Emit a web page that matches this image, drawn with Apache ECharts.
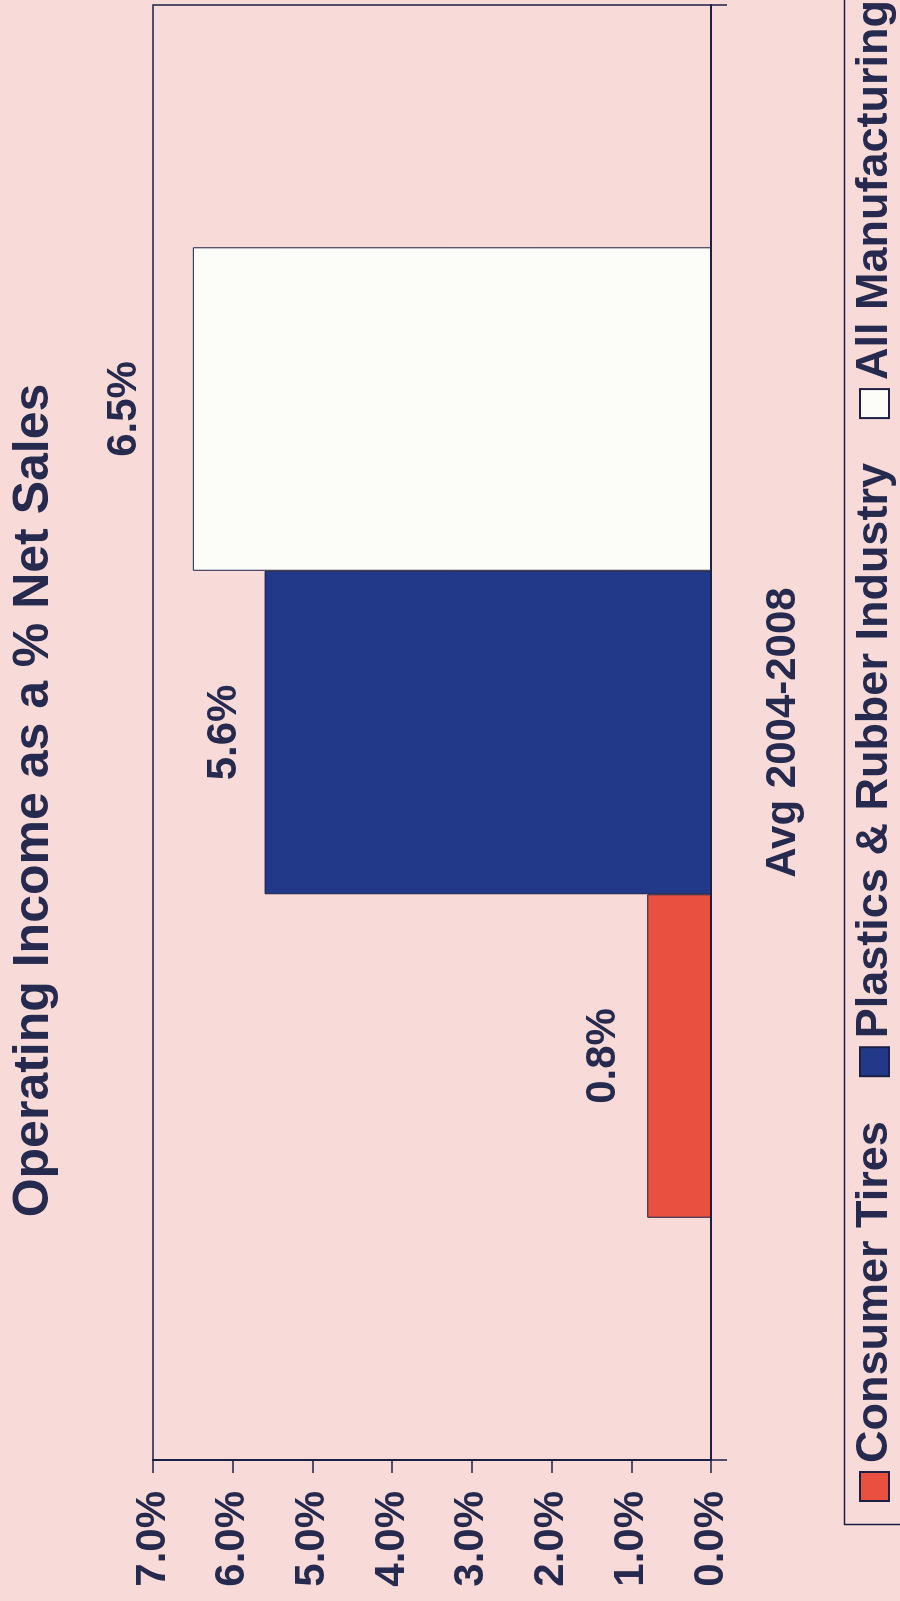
<!DOCTYPE html>
<html>
<head>
<meta charset="utf-8">
<title>Operating Income as a % Net Sales</title>
<script src="https://cdn.jsdelivr.net/npm/echarts@6/dist/echarts.min.js"></script>
<style>
  html, body { margin: 0; padding: 0; width: 900px; height: 1601px; overflow: hidden; background: #f8dbd8; }
  /* landscape chart turned a quarter-turn counter-clockwise to fill the portrait page */
  #chart {
    position: absolute; left: 0; top: 0;
    width: 1601px; height: 900px;
    transform-origin: 0 0;
    transform: translate(0, 1601px) rotate(-90deg);
  }
</style>
</head>
<body>
<div id="chart"></div>
<script>
// Operating income as a share of net sales, 5-year average
const categories = ['Avg 2004-2008'];
const seriesNames = ['Consumer Tires', 'Plastics & Rubber Industry', 'All Manufacturing'];
const consumerTires = [0.8];
const plasticsRubber = [5.6];
const allManufacturing = [6.5];
const valueAxisMin = 0;
const valueAxisMax = 7;
const valueAxisStep = 1;

const ink = '#262a4e';
const fontFamily = '"Liberation Sans", Arial, Helvetica, sans-serif';
const pct = v => Number(v).toFixed(1) + '%';

function barSeries(name, values, fill, labelDistance) {
  return {
    name: name,
    type: 'bar',
    data: values,
    barGap: '0%',
    barCategoryGap: '33.3%',
    itemStyle: { color: fill, borderColor: '#1d2045', borderWidth: 1 },
    label: {
      show: true,
      position: 'top',
      distance: labelDistance,
      formatter: p => pct(p.value),
      color: ink,
      fontSize: 42,
      fontWeight: 'bold',
      fontFamily: fontFamily
    },
    emphasis: { disabled: true }
  };
}

const chart = echarts.init(document.getElementById('chart'), null, { renderer: 'canvas' });

chart.setOption({
  backgroundColor: '#f8dbd8',
  animation: false,
  textStyle: { fontFamily: fontFamily, color: ink },
  title: {
    text: 'Operating Income as a % Net Sales',
    left: 'center',
    top: 4,
    textStyle: { fontSize: 50, fontWeight: 'bold', color: ink, fontFamily: fontFamily }
  },
  legend: {
    data: seriesNames,
    left: 99,
    top: 852,
    width: 1560,
    padding: 0,
    itemWidth: 29,
    itemHeight: 29,
    itemGap: 44,
    icon: 'rect',
    selectedMode: false,
    textStyle: { fontSize: 45, fontWeight: 'bold', color: ink, fontFamily: fontFamily, padding: [0, 0, 0, 4] }
  },
  graphic: [{
    type: 'rect',
    left: 74,
    top: 842,
    silent: true,
    shape: { width: 1600, height: 120 },
    style: { fill: 'none', stroke: '#1d2045', lineWidth: 1.5 }
  }],
  grid: {
    left: 141,
    right: 5,
    top: 153,
    bottom: 189,
    show: true,
    backgroundColor: 'transparent',
    borderColor: '#1d2045',
    borderWidth: 1.5,
    containLabel: false,
    outerBoundsMode: 'none'
  },
  xAxis: {
    type: 'category',
    data: categories,
    axisLine: { show: true, lineStyle: { color: '#1d2045', width: 2 } },
    axisTick: { show: true, length: 16, lineStyle: { color: '#1d2045', width: 1.5 } },
    axisLabel: { margin: 51, fontSize: 42, fontWeight: 'bold', color: ink, fontFamily: fontFamily },
    splitLine: { show: false }
  },
  yAxis: {
    type: 'value',
    min: valueAxisMin,
    max: valueAxisMax,
    interval: valueAxisStep,
    axisLine: { show: true, lineStyle: { color: '#1d2045', width: 2 } },
    axisTick: { show: true, length: 13, lineStyle: { color: '#1d2045', width: 1.5 } },
    axisLabel: { margin: 31, fontSize: 42, fontWeight: 'bold', color: ink, fontFamily: fontFamily, formatter: v => pct(v) },
    splitLine: { show: false }
  },
  series: [
    barSeries(seriesNames[0], consumerTires, '#e9503f', 23),
    barSeries(seriesNames[1], plasticsRubber, '#22398a', 19),
    barSeries(seriesNames[2], allManufacturing, '#fcfcf8', 47)
  ]
});
</script>
</body>
</html>
